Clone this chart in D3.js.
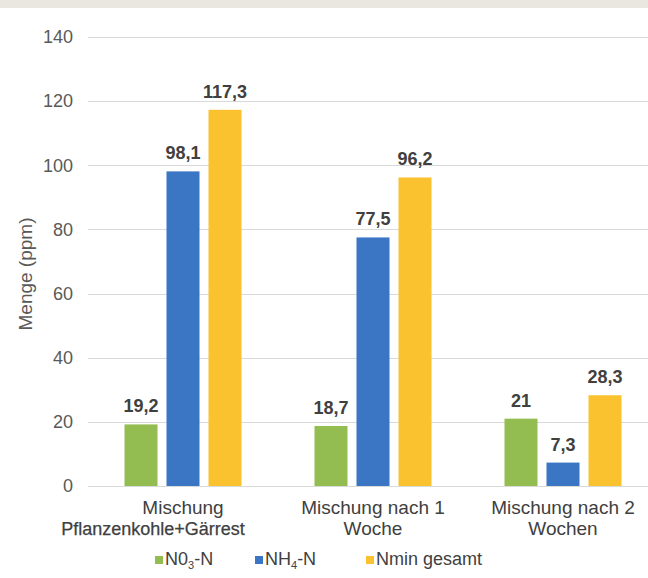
<!DOCTYPE html>
<html>
<head>
<meta charset="utf-8">
<script src="https://cdn.jsdelivr.net/npm/d3@7"></script>
<style>
  html, body { margin: 0; padding: 0; background: #fff; }
  svg { display: block; font-family: "Liberation Sans", Arial, sans-serif; }
</style>
</head>
<body>
<svg id="chart" width="648" height="578"></svg>
<script>
// Nitrogen fractions over time (ppm)
const categories = [
  ["Mischung", "Pflanzenkohle+Gärrest"],
  ["Mischung nach 1", "Woche"],
  ["Mischung nach 2", "Wochen"]
];
const seriesNames = ["NO3", "NH4", "Nmin"];
const no3Values  = [19.2, 18.7, 21];
const nh4Values  = [98.1, 77.5, 7.3];
const nminValues = [117.3, 96.2, 28.3];
const yTicks = [0, 20, 40, 60, 80, 100, 120, 140];
const colors = ["#93bd50", "#3b76c4", "#f9c22e"];

const seriesValues = [no3Values, nh4Values, nminValues];
const svg = d3.select("#chart");

// light header strip
svg.append("rect").attr("x", 0).attr("y", 0).attr("width", 648).attr("height", 8)
  .attr("fill", "#e9e7e0");

const y = d3.scaleLinear().domain([0, 140]).range([486, 37]);
const x0 = d3.scaleBand().domain(d3.range(categories.length)).range([88, 658]).padding(0);
const x1 = d3.scaleBand().domain(seriesNames).range([0, x0.bandwidth()])
  .paddingInner(9 / 42).paddingOuter(0.869);

// gridlines
svg.append("g").selectAll("line").data(yTicks).join("line")
  .attr("x1", 88).attr("x2", 648)
  .attr("y1", d => Math.round(y(d)) + 0.5).attr("y2", d => Math.round(y(d)) + 0.5)
  .attr("stroke", "#d9d9d9").attr("stroke-width", 1);

// y axis labels
const yAxis = d3.axisLeft(y).tickValues(yTicks).tickSize(0).tickPadding(0);
const gy = svg.append("g").attr("transform", "translate(73,0)").call(yAxis);
gy.select(".domain").remove();
gy.selectAll("text").attr("font-size", 18).attr("fill", "#595959")
  .attr("font-family", "Liberation Sans, Arial, sans-serif");

svg.append("text")
  .attr("transform", "translate(32,274) rotate(-90)")
  .attr("text-anchor", "middle")
  .attr("font-size", 19).attr("fill", "#595959")
  .text("Menge (ppm)");

// bars
const groups = svg.append("g").selectAll("g").data(categories.map((c, i) => i)).join("g")
  .attr("transform", i => `translate(${x0(i)},0)`);

groups.selectAll("rect")
  .data(i => seriesNames.map((s, k) => ({ s, k, v: seriesValues[k][i] })))
  .join("rect")
  .attr("x", d => x1(d.s))
  .attr("width", x1.bandwidth())
  .attr("y", d => y(d.v))
  .attr("height", d => y(0) - y(d.v))
  .attr("fill", d => colors[d.k]);

// value labels
groups.selectAll("text.val")
  .data(i => seriesNames.map((s, k) => ({ s, k, v: seriesValues[k][i] })))
  .join("text")
  .attr("class", "val")
  .attr("x", d => x1(d.s) + x1.bandwidth() / 2)
  .attr("y", d => y(d.v) - 12)
  .attr("text-anchor", "middle")
  .attr("font-size", 18).attr("font-weight", "bold").attr("fill", "#404040")
  .text(d => String(d.v).replace(".", ","));

// category labels (two lines each)
const catG = svg.append("g").selectAll("text").data(categories).join("text")
  .attr("x", (d, i) => x0(i) + x0.bandwidth() / 2)
  .attr("text-anchor", "middle")
  .attr("font-size", 19).attr("fill", "#404040");
catG.each(function (lines, i) {
  const t = d3.select(this);
  lines.forEach((line, j) => {
    const sp = t.append("tspan").attr("x", t.attr("x")).attr("y", 514 + j * 21).text(line);
    // the first group's second line is set a bit heavier and sits further left
    if (i === 0 && j === 1) {
      sp.attr("x", +t.attr("x") - 30).attr("font-size", 18)
        .attr("stroke", "#404040").attr("stroke-width", 0.25);
    }
  });
});

// legend
const legend = [
  { x: 155, parts: [["N0", null], ["3", "sub"], ["-N", null]] },
  { x: 255, parts: [["NH", null], ["4", "sub"], ["-N", null]] },
  { x: 366, parts: [["Nmin gesamt", null]] }
];
const lg = svg.append("g").selectAll("g").data(legend).join("g")
  .attr("transform", d => `translate(${d.x},0)`);
lg.append("rect").attr("x", 0).attr("y", 556).attr("width", 8).attr("height", 8)
  .attr("fill", (d, i) => colors[i]);
lg.append("text").attr("x", 10).attr("y", 565)
  .attr("font-size", 18).attr("fill", "#404040")
  .each(function (d) {
    const t = d3.select(this);
    d.parts.forEach(([txt, kind]) => {
      const sp = t.append("tspan").text(txt);
      if (kind === "sub") sp.attr("font-size", 11).attr("dy", 4);
      else if (t.selectAll("tspan").size() > 1) sp.attr("dy", -4);
    });
  });
</script>
</body>
</html>
